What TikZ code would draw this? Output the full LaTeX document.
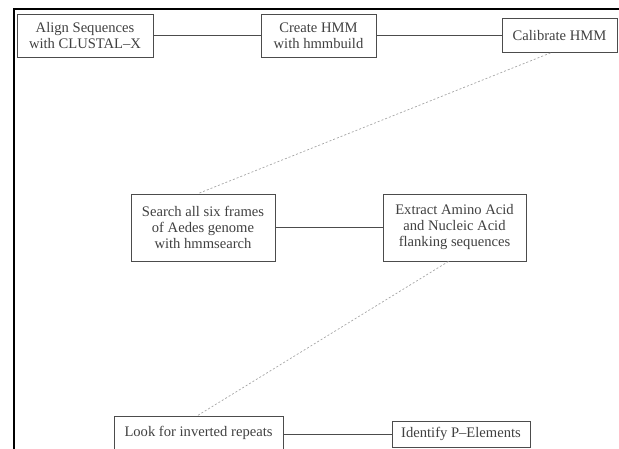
\documentclass[tikz,border=0pt]{standalone}
\usepackage{fontspec}
\setmainfont{Liberation Serif}
\usetikzlibrary{positioning}

\begin{document}
\begin{tikzpicture}[
    x=1pt, y=-1pt,
    stepbox/.style={rectangle, draw=black!70, line width=0.8pt, inner sep=0pt, align=center, text=black!75,
        font=\fontsize{14.6}{16}\selectfont},
    link/.style={draw=black!70, line width=0.8pt},
    jump/.style={draw=black!35, line width=0.7pt, dash pattern=on 2pt off 2pt},
    frame/.style={draw=black, line width=2pt},
]
    \useasboundingbox (0,0) rectangle (619,449);

    % Frame
    \coordinate (corner) at (14,9);
    \coordinate (topend) at (619,9);
    \coordinate (leftend) at (14,449);
    \draw [frame] (topend) -- (corner) -- (leftend);

    % Top row
    \node (align) [stepbox, minimum width=136pt, minimum height=43pt] at (85,35.5) {Align Sequences\\with CLUSTAL--X};
    \node (build) [stepbox, minimum width=115pt, minimum height=43pt] at (318.5,35.5) {Create HMM\\with hmmbuild};
    \node (calib) [stepbox, minimum width=115pt, minimum height=34pt] at (559.5,35.5) {Calibrate HMM};

    % Middle row
    \node (search) [stepbox, minimum width=144pt, minimum height=67pt] at (203,227.5) {Search all six frames\\of Aedes genome\\with hmmsearch};
    \node (extract) [stepbox, minimum width=143pt, minimum height=67pt] at (454.5,227.5) {Extract Amino Acid\\and Nucleic Acid\\flanking sequences};

    % Bottom row
    \node (repeats) [stepbox, minimum width=169pt, minimum height=34pt] at (198.5,433) {Look for inverted repeats};
    \node (pelem) [stepbox, minimum width=138pt, minimum height=26pt] at (461,434) {Identify P--Elements};

    % Connections
    \draw [link] (align) -- (build);
    \draw [link] (build) -- (calib);
    \draw [link] (search) -- (extract);
    \draw [link] (repeats.east |- pelem) -- (pelem);

    \draw [jump] ([xshift=-9pt]calib.south) -- ([xshift=-5pt]search.north);
    \draw [jump] ([xshift=-6pt]extract.south) -- ([xshift=-1pt]repeats.north);

\end{tikzpicture}
\end{document}
